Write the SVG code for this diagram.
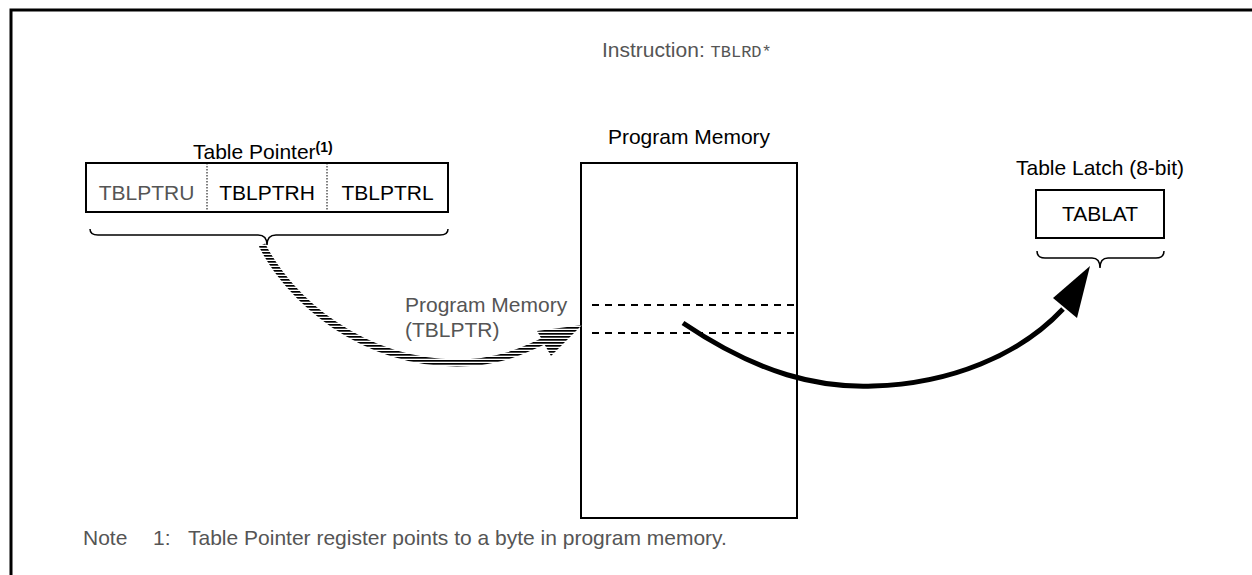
<svg xmlns="http://www.w3.org/2000/svg" width="1252" height="575" viewBox="0 0 1252 575">
<defs>
<style>
.t{font-family:"Liberation Sans",Arial,sans-serif;font-size:21px;fill:#000}
.g{font-family:"Liberation Sans",Arial,sans-serif;font-size:21px;fill:#555}
.box{fill:#fff;stroke:#000;stroke-width:2}
.dot{stroke:#000;stroke-width:1;stroke-dasharray:1.5 1.5}
.dash{stroke:#000;stroke-width:2;stroke-dasharray:7 6;fill:none}
.brace{fill:none;stroke:#000;stroke-width:1.5}
</style>
<pattern id="hatch" patternUnits="userSpaceOnUse" width="6" height="3">
<rect width="6" height="3" fill="#fff"/>
<rect width="6" height="1.7" fill="#000"/>
</pattern>
</defs>
<rect width="1252" height="575" fill="#fff"/>
<path d="M11,575 L11,10 L1252,10" fill="none" stroke="#000" stroke-width="3"/>

<g id="instruction">
<text class="g" x="602" y="57">Instruction: <tspan font-family="'Liberation Mono',monospace" font-size="17">TBLRD*</tspan></text>
</g>

<g id="table-pointer">
<text class="t" x="193" y="159">Table Pointer<tspan font-size="14" font-weight="bold" dy="-7">(1)</tspan></text>
<rect class="box" x="86" y="163" width="362" height="49"/>
<line class="dot" x1="207" y1="163" x2="207" y2="212"/>
<line class="dot" x1="327" y1="163" x2="327" y2="212"/>
<text class="g" x="146.5" y="200" text-anchor="middle">TBLPTRU</text>
<text class="t" x="267" y="200" text-anchor="middle">TBLPTRH</text>
<text class="t" x="387.5" y="200" text-anchor="middle">TBLPTRL</text>
<path class="brace" d="M90,229 Q90,235 98,235 L258,235 Q267,235 267,245 Q267,235 276,235 L440,235 Q448,235 448,229"/>
</g>

<g id="program-memory">
<text class="t" x="689" y="144" text-anchor="middle">Program Memory</text>
<rect class="box" x="581" y="163" width="216" height="355"/>
<line class="dash" x1="592" y1="305" x2="795" y2="305"/>
<line class="dash" x1="592" y1="333" x2="795" y2="333"/>
<text class="g" x="405" y="312">Program Memory</text>
<text class="g" x="405" y="337">(TBLPTR)</text>
</g>

<g id="table-latch">
<text class="t" x="1100" y="175" text-anchor="middle">Table Latch (8-bit)</text>
<rect class="box" x="1036" y="190" width="128" height="48"/>
<text class="t" x="1100" y="221" text-anchor="middle">TABLAT</text>
<path class="brace" d="M1037,251 Q1037,258 1045,258 L1092,258 Q1100,258 1100,268 Q1100,258 1108,258 L1156,258 Q1164,258 1164,251"/>
</g>

<g id="connectors">
<path d="M262,245 C290,300 360,362 457,363 C500,363 525,350 550,338" fill="none" stroke="url(#hatch)" stroke-width="7"/>
<polygon points="582,325 537,331 551,356" fill="url(#hatch)"/>
<path d="M683,323 C760,375 820,388 873,386 C950,384 1020,355 1063,309" fill="none" stroke="#000" stroke-width="5"/>
<polygon points="1090,266 1053,298 1077,318" fill="#000"/>
</g>

<g id="note">
<text class="g" x="83" y="545">Note</text>
<text class="g" x="153" y="545">1:</text>
<text class="g" x="188" y="545">Table Pointer register points to a byte in program memory.</text>
</g>
</svg>
